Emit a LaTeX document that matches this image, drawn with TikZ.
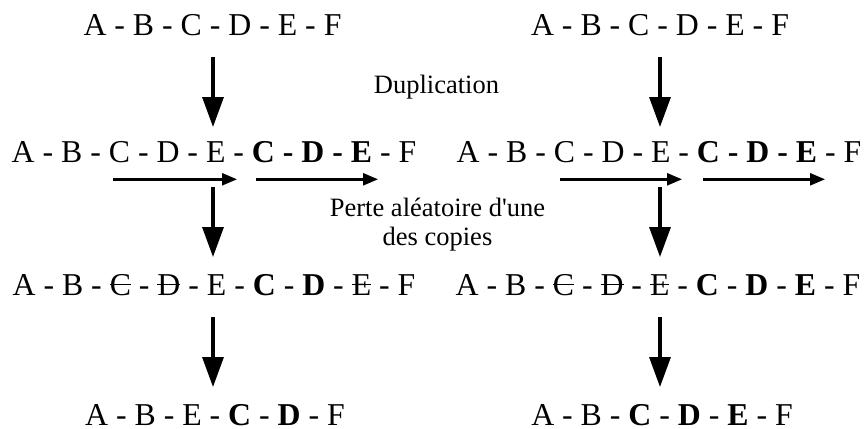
\documentclass[tikz,border=0pt]{standalone}
\usepackage{fontspec}
\setmainfont{Liberation Serif}[Ligatures=TeXOff]
\usetikzlibrary{arrows.meta}
\newcommand{\strk}[1]{\setbox0\hbox{#1}\rlap{\rule[0.31em]{\wd0}{0.045em}}\box0\relax}
\begin{document}
\begin{tikzpicture}[x=1bp,y=-1bp,
  row/.style={anchor=base,inner sep=0pt,text depth=0pt,font=\fontsize{31.8bp}{38bp}\selectfont},
  lbl/.style={anchor=base,inner sep=0pt,align=center,font=\fontsize{26.5bp}{28.5bp}\selectfont},
  varrow/.style={line width=3.3bp,-{Triangle[width=21bp,length=30bp]}},
  harrow/.style={line width=2.5bp,-{Triangle[width=12bp,length=15bp]}}]
\useasboundingbox (0,0) rectangle (866,428);
% rows
\node[row] (l1) at (212.5,35) {A - B - C - D - E - F};
\node[row] (r1) at (660,35) {A - B - C - D - E - F};
\node[row] (l2) at (214,162) {A - B - C - D - E - \textbf{C - D - E} - F};
\node[row] (r2) at (659,162) {A - B - C - D - E - \textbf{C - D - E} - F};
\node[row] (l3) at (214,295) {A - B - \strk{C} - \strk{D} - E - \textbf{C} - \textbf{D} - \strk{E} - F};
\node[row] (r3) at (658,295) {A - B - \strk{C} - \strk{D} - \strk{E} - \textbf{C} - \textbf{D} - \textbf{E} - F};
\node[row] (l4) at (215,425) {A - B - E - \textbf{C} - \textbf{D} - F};
\node[row] (r4) at (662,425) {A - B - \textbf{C} - \textbf{D} - \textbf{E} - F};
% labels
\node[lbl] (dup) at (436.5,93.3) {Duplication};
\node[lbl] (perte) at (437.5,245) {Perte aléatoire d'une\\des copies};
% vertical arrows
\foreach \x/\s in {213/L,660/R}{
  \coordinate (a1\s) at (\x,56.7); \coordinate (b1\s) at (\x,127);
  \coordinate (a2\s) at (\x,186.7); \coordinate (b2\s) at (\x,257);
  \coordinate (a3\s) at (\x,317); \coordinate (b3\s) at (\x,387);
}
\foreach \s in {L,R}{
  \draw[varrow] (a1\s) -- (b1\s);
  \draw[varrow] (a2\s) -- (b2\s);
  \draw[varrow] (a3\s) -- (b3\s);
}
% horizontal arrows
\coordinate (h1a) at (113,179.3); \coordinate (h1b) at (237,179.3);
\coordinate (h2a) at (256,179.3); \coordinate (h2b) at (378,179.3);
\coordinate (h3a) at (560,179.3); \coordinate (h3b) at (682,179.3);
\coordinate (h4a) at (703,179.3); \coordinate (h4b) at (825,179.3);
\draw[harrow] (h1a) -- (h1b);
\draw[harrow] (h2a) -- (h2b);
\draw[harrow] (h3a) -- (h3b);
\draw[harrow] (h4a) -- (h4b);
\end{tikzpicture}
\end{document}
